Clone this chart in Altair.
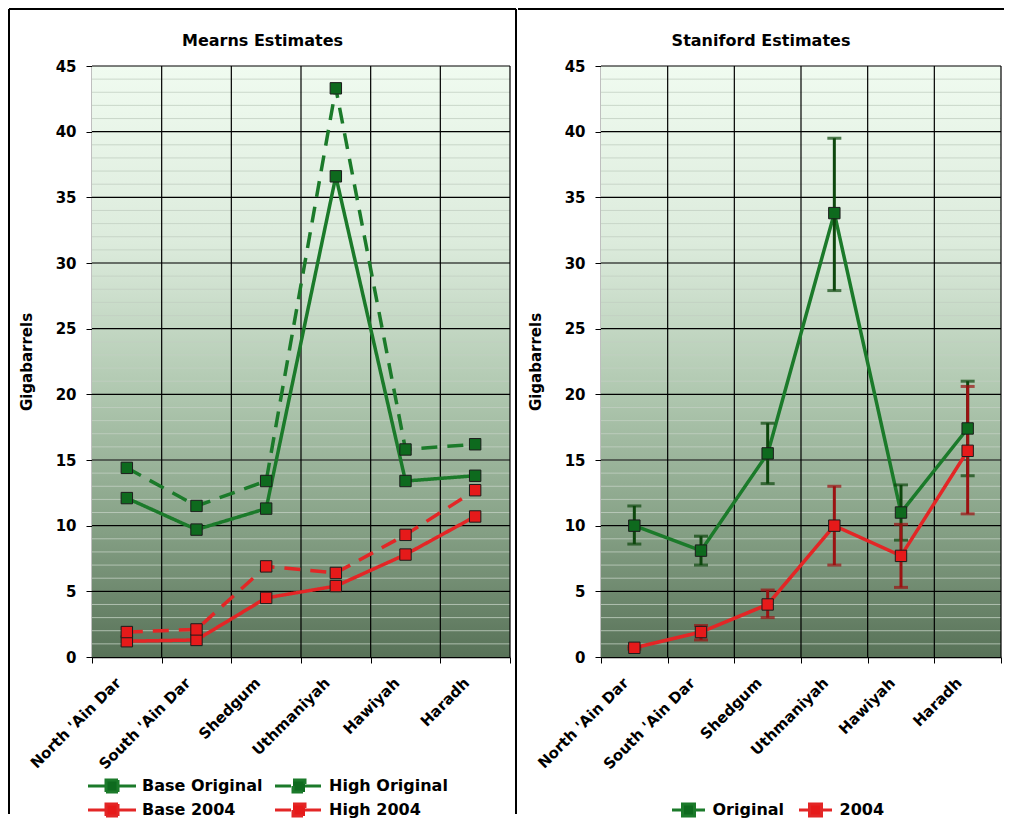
import altair as alt
import pandas as pd

fields = ["North 'Ain Dar", "South 'Ain Dar", "Shedgum", "Uthmaniyah", "Hawiyah", "Haradh"]

series_m = ["Base Original", "High Original", "Base 2004", "High 2004"]
mearns_base_original = [12.1, 9.7, 11.3, 36.6, 13.4, 13.8]
mearns_high_original = [14.4, 11.5, 13.4, 43.3, 15.8, 16.2]
mearns_base_2004 = [1.2, 1.3, 4.5, 5.4, 7.8, 10.7]
mearns_high_2004 = [1.9, 2.1, 6.9, 6.4, 9.3, 12.7]

series_s = ["Original", "2004"]
staniford_original = [10.0, 8.1, 15.5, 33.8, 11.0, 17.4]
staniford_original_low = [8.6, 7.0, 13.2, 27.9, 8.9, 13.8]
staniford_original_high = [11.5, 9.2, 17.8, 39.5, 13.1, 21.0]
staniford_2004 = [0.7, 1.9, 4.0, 10.0, 7.7, 15.7]
staniford_2004_low = [0.6, 1.3, 3.0, 7.0, 5.3, 10.9]
staniford_2004_high = [0.8, 2.4, 5.1, 13.0, 10.1, 20.6]

minor_ticks = [v for v in range(1, 45)]
major_ticks = [5, 10, 15, 20, 25, 30, 35, 40, 45]

FONT = "DejaVu Sans"
G_LINE, G_FILL, G_ERR = "#1b7a2a", "#0e6a1e", "#0d470d"
R_LINE, R_FILL, R_ERR = "#e32626", "#e61a1a", "#9b1212"

W_L, W_R, H = 418, 400, 591

mdf = pd.DataFrame({
    "field": fields * 4,
    "series": [s for s in series_m for _ in fields],
    "value": mearns_base_original + mearns_high_original + mearns_base_2004 + mearns_high_2004,
})
sdf = pd.DataFrame({
    "field": fields * 2,
    "series": [s for s in series_s for _ in fields],
    "value": staniford_original + staniford_2004,
    "lo": staniford_original_low + staniford_2004_low,
    "hi": staniford_original_high + staniford_2004_high,
})
fdf = pd.DataFrame({"field": fields})
minor_df = pd.DataFrame({"v": minor_ticks})
major_df = pd.DataFrame({"v": major_ticks})
one = alt.Data(values=[{"a": 1}])

# legend order (Vega fills legend columns top-to-bottom)
legend_order_m = ["Base Original", "Base 2004", "High Original", "High 2004"]
line_colors_m = {"Base Original": G_LINE, "High Original": G_LINE, "Base 2004": R_LINE, "High 2004": R_LINE}
fill_colors_m = {"Base Original": G_FILL, "High Original": G_FILL, "Base 2004": R_FILL, "High 2004": R_FILL}
dashes_m = {"Base Original": [1, 0], "High Original": [16, 10], "Base 2004": [1, 0], "High 2004": [16, 10]}

grad = alt.LinearGradient(
    gradient="linear",
    stops=[
        alt.GradientStop(offset=0, color="#f0fbf0"),
        alt.GradientStop(offset=0.3, color="#dcebdc"),
        alt.GradientStop(offset=0.55, color="#b0c8b0"),
        alt.GradientStop(offset=0.78, color="#86a186"),
        alt.GradientStop(offset=1, color="#587258"),
    ],
    x1=0, x2=0, y1=0, y2=1,
)


def xenc(band=None):
    kw = {}
    if band is not None:
        kw["bandPosition"] = band
    return alt.X(
        "field:N", sort=fields,
        scale=alt.Scale(domain=fields, paddingInner=0, paddingOuter=0),
        axis=alt.Axis(title=None, labelAngle=-45, labelAlign="right", labelBaseline="middle",
                      labelOffset=-9, labelPadding=17,
                      labelFont=FONT, labelFontWeight="bold",
                      labelFontSize=15, labelColor="black", domainColor="black", domainWidth=1.5,
                      tickColor="black", tickSize=6, tickBand="extent", grid=False),
        **kw,
    )


def yenc(f):
    return alt.Y(
        f"{f}:Q",
        scale=alt.Scale(domain=[0, 45], nice=False, zero=True),
        axis=alt.Axis(title="Gigabarrels", values=[0, 5, 10, 15, 20, 25, 30, 35, 40, 45],
                      labelFont=FONT, labelFontWeight="bold", labelFontSize=15, labelColor="black",
                      titleFont=FONT, titleFontWeight="bold", titleFontSize=15, titleColor="black",
                      titlePadding=21, domainColor="black", domainWidth=1.5, tickColor="black",
                      tickSize=6, labelPadding=10, grid=False),
    )


def grid_layers(W):
    bg = alt.Chart(one).mark_rect(fill=grad).encode(
        x=alt.value(0), x2=alt.value(W), y=alt.value(0), y2=alt.value(H))
    minor = alt.Chart(minor_df).mark_rule(color="#c2d0c2", strokeWidth=1, opacity=0.8).encode(y=yenc("v"))
    major = alt.Chart(major_df).mark_rule(color="black", strokeWidth=1.2).encode(y=yenc("v"))
    vgrid = alt.Chart(fdf).mark_rule(color="black", strokeWidth=1.2).encode(x=xenc(band=1))
    return [bg, minor, major, vgrid]


def legend(x, y, cols, path, sym_offset, label_offset, col_pad):
    return alt.Legend(title=None, orient="none", legendX=x, legendY=y, columns=cols,
                      symbolType=path, symbolSize=144, symbolStrokeWidth=3, symbolOffset=sym_offset,
                      labelFont=FONT, labelFontWeight="bold", labelFontSize=16, labelColor="black",
                      labelOffset=label_offset, columnPadding=col_pad, rowPadding=0)


PATH_L = "M-4,0H-1M1,0H4M-1,-1H1V1H-1Z"
PATH_R = "M-2.75,0H-1M1,0H2.75M-1,-1H1V1H-1Z"

leg_m = legend(-6, 712, 2, PATH_L, 18, 22, 6)
leg_s = legend(69, 736, 2, PATH_R, 10.5, 16, 8)

TOP = -57
BOTTOM = 748

# ---------------- left panel ----------------
frame_l = [
    alt.Chart(one).mark_rule(color="black", strokeWidth=2).encode(
        x=alt.value(-83), y=alt.value(TOP), y2=alt.value(BOTTOM)),
    alt.Chart(one).mark_rule(color="black", strokeWidth=2).encode(
        x=alt.value(-83), x2=alt.value(W_L + 6), y=alt.value(TOP)),
    alt.Chart(one).mark_rule(color="black", strokeWidth=2).encode(
        x=alt.value(W_L + 6), y=alt.value(TOP), y2=alt.value(BOTTOM)),
]
line_m = alt.Chart(mdf).mark_line(strokeWidth=3.5).encode(
    x=xenc(), y=yenc("value"),
    color=alt.Color("series:N", scale=alt.Scale(domain=legend_order_m, range=[line_colors_m[s] for s in legend_order_m]), legend=leg_m),
    strokeDash=alt.StrokeDash("series:N", scale=alt.Scale(domain=legend_order_m, range=[dashes_m[s] for s in legend_order_m]), legend=leg_m),
)
pts_m = alt.Chart(mdf).mark_square(size=130, stroke="#1c1c1c", strokeWidth=1, opacity=1).encode(
    x=xenc(), y=yenc("value"),
    fill=alt.Fill("series:N", scale=alt.Scale(domain=legend_order_m, range=[fill_colors_m[s] for s in legend_order_m]), legend=leg_m),
)
left = alt.layer(*grid_layers(W_L), *frame_l, line_m, pts_m).properties(
    width=W_L, height=H,
    title=alt.TitleParams("Mearns Estimates", font=FONT, fontSize=16, fontWeight="bold", color="black",
                          anchor="middle", frame="bounds", offset=-41),
)

# ---------------- right panel ----------------
frame_r = [
    alt.Chart(one).mark_rule(color="black", strokeWidth=2).encode(
        x=alt.value(-83), x2=alt.value(W_R + 3), y=alt.value(TOP)),
]
line_s = alt.Chart(sdf).mark_line(strokeWidth=3.5).encode(
    x=xenc(), y=yenc("value"),
    color=alt.Color("series:N", scale=alt.Scale(domain=series_s, range=[G_LINE, R_LINE]), legend=leg_s),
)
err_layers = []
for s, c in [("Original", G_ERR), ("2004", R_ERR)]:
    base = alt.Chart(sdf).transform_filter(alt.datum.series == s)
    err_layers.append(base.mark_rule(color=c, strokeWidth=3).encode(x=xenc(), y=yenc("lo"), y2="hi:Q"))
    err_layers.append(base.mark_tick(color=c, size=14, thickness=3).encode(x=xenc(), y=yenc("lo")))
    err_layers.append(base.mark_tick(color=c, size=14, thickness=3).encode(x=xenc(), y=yenc("hi")))
pts_s = alt.Chart(sdf).mark_square(size=130, stroke="#1c1c1c", strokeWidth=1, opacity=1).encode(
    x=xenc(), y=yenc("value"),
    fill=alt.Fill("series:N", scale=alt.Scale(domain=series_s, range=[G_FILL, R_FILL]), legend=leg_s),
)
right = alt.layer(*grid_layers(W_R), *frame_r, line_s, *err_layers, pts_s).properties(
    width=W_R, height=H,
    title=alt.TitleParams("Staniford Estimates", font=FONT, fontSize=16, fontWeight="bold", color="black",
                          anchor="middle", frame="bounds", offset=-41),
)

chart = (
    alt.hconcat(left, right, spacing=0)
    .resolve_scale(color="independent", fill="independent", strokeDash="independent")
    .resolve_legend(color="independent", fill="independent", strokeDash="independent")
    .properties(padding=0, background="white")
    .configure_view(stroke=None)
)

chart.save("out.html", embed_options={"renderer": "svg", "actions": False})
